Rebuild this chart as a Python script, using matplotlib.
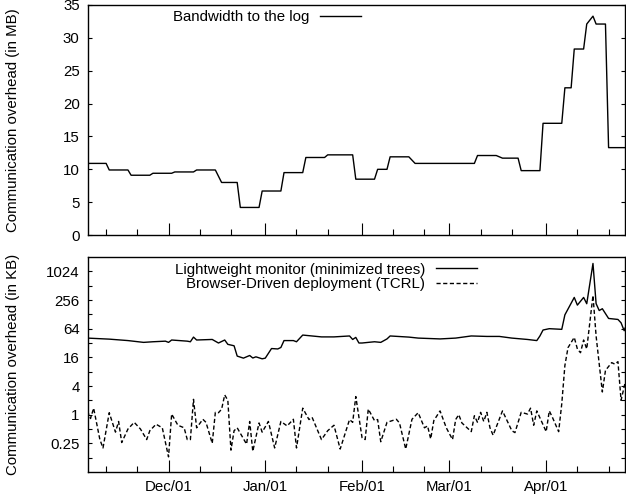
import numpy as np
import matplotlib
matplotlib.use("Agg")
import matplotlib.pyplot as plt
import matplotlib.dates as mdates
from matplotlib.ticker import FixedLocator, NullFormatter

plt.rcParams["font.family"] = ["Liberation Sans", "DejaVu Sans"]
plt.rcParams["font.size"] = 10.8

# day offsets are counted from this date
BASE = np.datetime64("2004-11-01")
XLIM_DAYS = (4.2, 176.3)

# top panel: bandwidth to the log (MB)
log_days = [4, 10, 11, 17, 18, 24, 25, 31, 32, 38, 39, 45, 47, 52, 53, 59, 60, 66,
            67, 73, 74, 80, 81, 89, 90, 96, 97, 100, 101, 107, 109, 128, 129, 135,
            137, 142, 143, 149, 150, 156, 157, 159, 160, 163, 164, 166, 167, 170,
            171, 176.3]
log_mb = [10.9, 10.9, 9.9, 9.9, 9.1, 9.1, 9.4, 9.4, 9.6, 9.6, 9.9, 9.9, 8.0, 8.0,
          4.2, 4.2, 6.7, 6.7, 9.5, 9.5, 11.8, 11.8, 12.2, 12.2, 8.5, 8.5, 10.0, 10.0,
          11.9, 11.9, 10.9, 10.9, 12.1, 12.1, 11.7, 11.7, 9.8, 9.8, 17.0, 17.0, 22.4,
          22.4, 28.3, 28.3, 32.1, 33.3, 32.1, 32.1, 13.3, 13.3]

# bottom panel: lightweight monitor (KB)
mon_days = [4, 11, 17, 22, 25, 29, 30, 31, 36, 37, 38, 39, 44, 46, 48, 49, 51, 52,
            54, 56, 57, 58, 60, 61, 63, 65, 66, 67, 70, 71, 73, 79, 83, 88, 89, 90,
            91, 92, 94, 96, 98, 100, 101, 107, 110, 117, 122, 127, 132, 136, 140,
            145, 148, 149, 150, 152, 156, 157, 160, 161, 163, 164, 166, 167, 168,
            169, 171, 174, 175, 176, 176.3]
mon_kb = [40.6, 38.6, 36, 33, 34, 35, 33, 37, 35, 34, 42.6, 37, 38, 32, 37, 30, 28,
          17, 15.4, 17.5, 15.5, 16.4, 14.9, 15.4, 24.5, 24, 25.8, 36, 36, 34, 47, 43,
          43, 45, 38, 42, 32, 32, 33, 34, 33, 39, 45, 42.6, 40.6, 39, 40.6, 45, 44,
          44, 40.6, 38, 36, 45, 60, 64, 62, 125, 290, 200, 290, 214, 1500, 215, 154,
          168, 105, 100, 85, 58, 66]

# bottom panel: browser-driven deployment (KB)
tcrl_days = [4, 5, 6, 8, 9, 11, 13, 14, 15, 17, 19, 21, 23, 24, 26, 28, 30, 31, 33,
             35, 36, 37, 38, 39, 41, 42, 44, 45, 46, 47, 48, 49, 50, 51, 52, 55, 56,
             57, 59, 60, 62, 64, 66, 68, 70, 71, 73, 75, 76, 79, 81, 83, 85, 88, 89,
             90, 92, 93, 94, 96, 97, 98, 100, 103, 104, 106, 108, 110, 112, 113, 114,
             115, 117, 119, 121, 122, 123, 124, 127, 128, 129, 130, 131, 132, 133,
             134, 137, 140, 141, 143, 145, 146, 147, 148, 151, 152, 153, 155, 156,
             157, 158, 160, 161, 162, 163, 164, 166, 167, 169, 170, 172, 173, 174,
             175, 176.3]
tcrl_kb = [1.2, 0.83, 1.37, 0.3, 0.2, 1.1, 0.43, 0.72, 0.26, 0.5, 0.69, 0.5, 0.3,
           0.46, 0.63, 0.53, 0.13, 1.03, 0.6, 0.53, 0.3, 0.3, 2.1, 0.53, 0.8, 0.69,
           0.25, 1.12, 1.1, 1.3, 2.6, 2.0, 0.18, 0.46, 0.53, 0.24, 0.72, 0.17, 0.67,
           0.43, 0.72, 0.2, 0.72, 0.58, 0.8, 0.2, 1.37, 0.79, 0.88, 0.3, 0.46, 0.6,
           0.19, 0.79, 0.69, 2.4, 0.33, 0.3, 1.31, 0.75, 0.79, 0.27, 0.69, 0.8, 0.67,
           0.19, 0.8, 1.1, 0.53, 0.58, 0.31, 0.75, 1.2, 0.53, 0.3, 0.79, 1.0, 0.67,
           0.44, 0.95, 0.69, 1.12, 0.72, 1.12, 0.53, 0.37, 1.2, 0.46, 0.42, 1.12,
           1.03, 1.37, 0.6, 1.2, 0.44, 1.2, 0.88, 0.44, 1.7, 10.8, 25.6, 42, 24, 20,
           37, 24, 320, 45, 3.0, 8.5, 12.4, 11.5, 13, 2.0, 4.7]

kb_major = [0.25, 1, 4, 16, 64, 256, 1024]
kb_minor = [0.125, 0.5, 2, 8, 32, 128, 512]


def to_num(days):
    return mdates.date2num(BASE) + np.asarray(days, dtype=float)


def style_axis(ax):
    ax.set_xlim(to_num(XLIM_DAYS))
    ax.xaxis.set_major_locator(mdates.MonthLocator())
    ax.xaxis.set_minor_locator(mdates.DayLocator(bymonthday=[11, 21]))
    ax.xaxis.set_major_formatter(mdates.DateFormatter("%b/%d"))
    ax.tick_params(axis="x", which="major", direction="in", length=8.5, width=0.8,
                   top=False, pad=6)
    ax.tick_params(axis="x", which="minor", direction="in", length=4.3, width=0.8,
                   top=False)
    ax.tick_params(axis="y", which="both", direction="in", length=3, width=0.8,
                   left=True, right=True, pad=6)
    for sp in ax.spines.values():
        sp.set_linewidth(1.0)


fig = plt.figure(figsize=(6.26, 4.98), dpi=100)
ax1 = fig.add_axes([0.1406, 0.528, 0.858, 0.462])
ax2 = fig.add_axes([0.1406, 0.0522, 0.858, 0.4317])

ax1.plot(to_num(log_days), log_mb, color="black", lw=1.0,
         label="Bandwidth to the log")
style_axis(ax1)
ax1.set_ylim(0, 35)
ax1.set_yticks(np.arange(0, 36, 5))
ax1.xaxis.set_major_formatter(NullFormatter())
ax1.set_ylabel("Communication overhead (in MB)")
ax1.yaxis.set_label_coords(-0.127, 0.5)
ax1.legend(loc="upper right", bbox_to_anchor=(0.53, 1.03), frameon=False,
           markerfirst=False, handlelength=2.7, handletextpad=0.75,
           borderpad=0.3)

ax2.plot(to_num(mon_days), mon_kb, color="black", lw=1.0,
         label="Lightweight monitor (minimized trees)")
ax2.plot(to_num(tcrl_days), tcrl_kb, color="black", lw=1.0,
         linestyle=(0, (3, 1.8)), label="Browser-Driven deployment (TCRL)")
style_axis(ax2)
ax2.set_yscale("log", base=2)
ax2.set_ylim(0.0625, 2048)
ax2.yaxis.set_major_locator(FixedLocator(kb_major))
ax2.yaxis.set_minor_locator(FixedLocator(kb_minor))
ax2.yaxis.set_minor_formatter(NullFormatter())
ax2.set_yticklabels([f"{v:g}" for v in kb_major])
ax2.set_ylabel("Communication overhead (in KB)")
ax2.yaxis.set_label_coords(-0.127, 0.5)
ax2.legend(loc="upper right", bbox_to_anchor=(0.746, 1.03), frameon=False,
           markerfirst=False, handlelength=2.7, handletextpad=0.75,
           labelspacing=0.03, borderpad=0.3)

fig.savefig("out.png", dpi=100)
